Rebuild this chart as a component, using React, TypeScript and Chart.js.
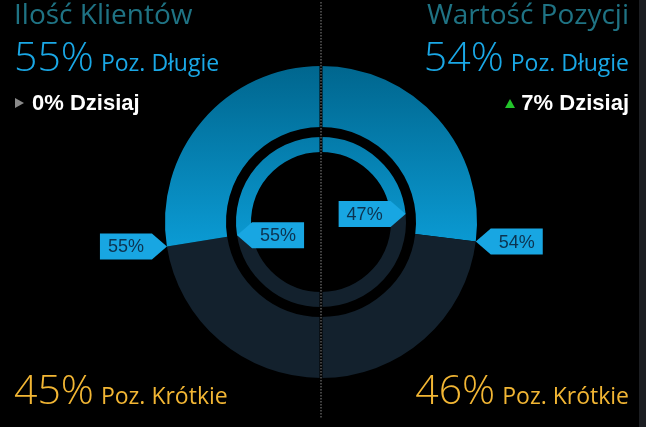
import React, { useEffect, useRef } from 'react';
import { Chart, registerables } from 'chart.js';

Chart.register(...registerables);

// ---- data ----
// Doughnut segments, clockwise from 12 o'clock: right half = Wartość Pozycji, left half = Ilość Klientów
const segmentLabels = [
  'Wartość Pozycji – Poz. Długie',
  'Wartość Pozycji – Poz. Krótkie',
  'Ilość Klientów – Poz. Krótkie',
  'Ilość Klientów – Poz. Długie',
];
const outerValues = [54, 46, 45, 55]; // outer ring (%)
const innerValues = [47, 53, 45, 55]; // inner ring (%)
const segmentIsLong = [true, false, false, true];

const leftTitle = 'Ilość Klientów';
const rightTitle = 'Wartość Pozycji';
const longLabel = 'Poz. Długie';
const shortLabel = 'Poz. Krótkie';
const todayLabel = 'Dzisiaj';
const leftToday = 0; // % change today
const rightToday = 7;

// ---- styles ----
const LONG_TOP = '#00668e';
const LONG_BOTTOM = '#0b9bd4';
const SHORT_COLOR = '#13212d';
const CALLOUT_COLOR = '#18a6e2';
const CALLOUT_TEXT = '#0c3350';

function fillFor(c: any) {
  if (!segmentIsLong[c.dataIndex]) return SHORT_COLOR;
  const chart = c.chart;
  const area = chart.chartArea;
  if (!area) return LONG_BOTTOM;
  const g = chart.ctx.createLinearGradient(0, area.top, 0, area.top + area.height * 0.58);
  g.addColorStop(0, LONG_TOP);
  g.addColorStop(1, LONG_BOTTOM);
  return g;
}

function drawCallout(ctx: CanvasRenderingContext2D, tx: number, ty: number, dir: number, text: string) {
  const w = 52;
  const h = 26;
  const a = 15;
  ctx.save();
  ctx.beginPath();
  ctx.moveTo(tx, ty);
  ctx.lineTo(tx + dir * a, ty - h / 2);
  ctx.lineTo(tx + dir * (a + w), ty - h / 2);
  ctx.lineTo(tx + dir * (a + w), ty + h / 2);
  ctx.lineTo(tx + dir * a, ty + h / 2);
  ctx.closePath();
  ctx.fillStyle = CALLOUT_COLOR;
  ctx.fill();
  ctx.fillStyle = CALLOUT_TEXT;
  ctx.font = '18px "Liberation Sans", Arial, sans-serif';
  ctx.textAlign = 'center';
  ctx.textBaseline = 'middle';
  ctx.fillText(text, tx + dir * (a + w / 2), ty + 1);
  ctx.restore();
}

const calloutPlugin = {
  id: 'callouts',
  afterDatasetsDraw(chart: any) {
    const ctx = chart.ctx as CanvasRenderingContext2D;
    const specs = [
      { ds: 0, outward: true },
      { ds: 2, outward: false },
    ];
    for (const s of specs) {
      const meta = chart.getDatasetMeta(s.ds);
      const values = chart.data.datasets[s.ds].data as number[];
      // right half boundary: end of segment 0 ; left half boundary: start of segment 3
      const rightArc = meta.data[0];
      const leftArc = meta.data[3];
      const pts = [
        { arc: rightArc, ang: rightArc.endAngle, side: 1, val: values[0] },
        { arc: leftArc, ang: leftArc.startAngle, side: -1, val: values[3] },
      ];
      for (const p of pts) {
        const r = p.arc.outerRadius;
        const tx = p.arc.x + r * Math.cos(p.ang);
        const ty = p.arc.y + r * Math.sin(p.ang);
        const dir = s.outward ? p.side : -p.side;
        drawCallout(ctx, tx, ty, dir, p.val + '%');
      }
    }
  },
  afterDraw(chart: any) {
    const ctx = chart.ctx as CanvasRenderingContext2D;
    const meta = chart.getDatasetMeta(0);
    const cx = meta.data[0].x;
    ctx.save();
    ctx.strokeStyle = '#000';
    ctx.lineWidth = 3;
    ctx.beginPath();
    ctx.moveTo(cx, 0);
    ctx.lineTo(cx, 420);
    ctx.stroke();
    ctx.strokeStyle = '#5a5a5a';
    ctx.lineWidth = 1.5;
    ctx.setLineDash([1.5, 1.5]);
    ctx.beginPath();
    ctx.moveTo(cx, 2);
    ctx.lineTo(cx, 419);
    ctx.stroke();
    ctx.restore();
  },
};

const OPEN = '"Open Sans", "Noto Sans", sans-serif';
const ARIAL = '"Liberation Sans", Arial, sans-serif';

export default function App() {
  const ref = useRef<HTMLCanvasElement>(null);

  useEffect(() => {
    if (!ref.current) return;
    const chart = new Chart(ref.current, {
      type: 'doughnut',
      data: {
        labels: segmentLabels,
        datasets: [
          {
            data: outerValues,
            backgroundColor: fillFor as any,
            borderWidth: 0,
            hoverBorderWidth: 0,
            hoverOffset: 0,
            weight: 61,
          } as any,
          {
            data: [1],
            backgroundColor: 'rgba(0,0,0,0)',
            borderWidth: 0,
            hoverBorderWidth: 0,
            hoverOffset: 0,
            weight: 10,
          } as any,
          {
            data: innerValues,
            backgroundColor: fillFor as any,
            borderWidth: 0,
            hoverBorderWidth: 0,
            hoverOffset: 0,
            weight: 15,
          } as any,
        ],
      },
      options: {
        responsive: false,
        animation: false,
        cutout: 70,
        events: [],
        layout: { padding: { top: 66, bottom: 49, left: 0, right: 4 } },
        plugins: {
          legend: { display: false },
          tooltip: { enabled: false },
        },
      } as any,
      plugins: [calloutPlugin],
    });
    return () => chart.destroy();
  }, []);

  const leftLong = outerValues[3];
  const leftShort = outerValues[2];
  const rightLong = outerValues[0];
  const rightShort = outerValues[1];

  const bigRow = (color: string, pct: number, label: string, side: 'left' | 'right', top: number) => (
    <div
      style={{
        position: 'absolute',
        top,
        [side]: side === 'left' ? 14 : 17,
        display: 'flex',
        alignItems: 'baseline',
        color,
        whiteSpace: 'nowrap',
      }}
    >
      <span style={{ font: `300 41px/44px ${OPEN}` }}>{pct}%</span>
      <span style={{ font: `400 23px/44px ${OPEN}`, marginLeft: 7 }}>{label}</span>
    </div>
  );

  return (
    <div style={{ position: 'absolute', left: 0, top: 0, width: 646, height: 427, background: '#000', overflow: 'hidden' }}>
      <canvas ref={ref} width={646} height={427} style={{ position: 'absolute', left: 0, top: 0, width: 646, height: 427 }} />
      <div style={{ position: 'absolute', right: 0, top: 0, width: 7, height: 427, background: '#1c1e22' }} />

      <div style={{ position: 'absolute', left: 14, top: -2, font: `400 28px/30px ${OPEN}`, color: '#1f7384', whiteSpace: 'nowrap' }}>
        {leftTitle}
      </div>
      <div style={{ position: 'absolute', right: 17, top: -2, font: `400 28px/30px ${OPEN}`, color: '#1f7384', whiteSpace: 'nowrap' }}>
        {rightTitle}
      </div>

      {bigRow('#1aa8e6', leftLong, longLabel, 'left', 33)}
      {bigRow('#1aa8e6', rightLong, longLabel, 'right', 33)}

      <div style={{ position: 'absolute', left: 15, top: 90, display: 'flex', alignItems: 'center', height: 26 }}>
        <div style={{ width: 0, height: 0, borderTop: '5px solid transparent', borderBottom: '5px solid transparent', borderLeft: '9px solid #8a8a8a', marginRight: 8 }} />
        <span style={{ font: `700 22px/26px ${ARIAL}`, color: '#fff', whiteSpace: 'nowrap' }}>
          {leftToday}% {todayLabel}
        </span>
      </div>
      <div style={{ position: 'absolute', right: 17, top: 90, display: 'flex', alignItems: 'center', height: 26 }}>
        <div style={{ width: 0, height: 0, borderLeft: '5px solid transparent', borderRight: '5px solid transparent', borderBottom: '9px solid #22c42a', marginRight: 6 }} />
        <span style={{ font: `700 22px/26px ${ARIAL}`, color: '#fff', whiteSpace: 'nowrap' }}>
          {rightToday}% {todayLabel}
        </span>
      </div>

      {bigRow('#f2b634', leftShort, shortLabel, 'left', 366)}
      {bigRow('#f2b634', rightShort, shortLabel, 'right', 366)}
    </div>
  );
}
